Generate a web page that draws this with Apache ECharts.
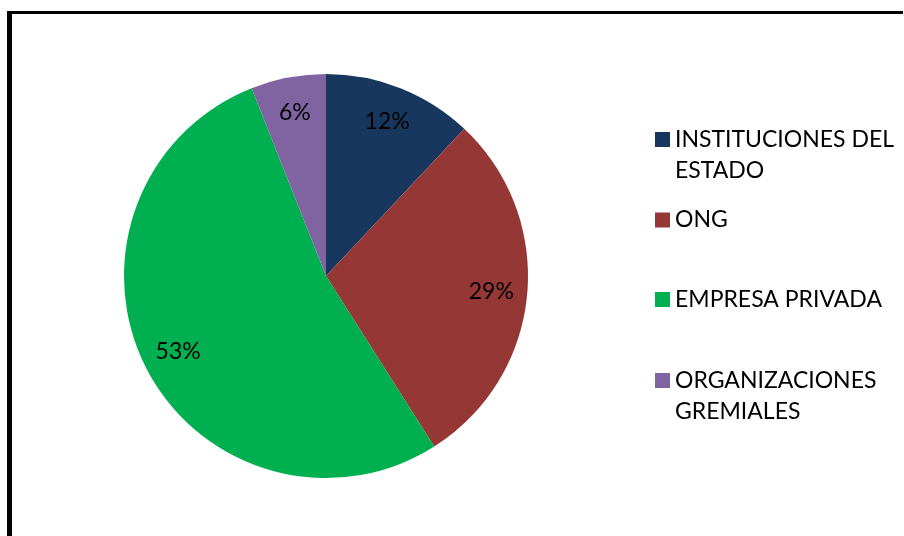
<!DOCTYPE html>
<html>
<head>
<meta charset="utf-8">
<script src="https://cdn.jsdelivr.net/npm/echarts@6/dist/echarts.min.js"></script>
<style>
  html, body { margin: 0; padding: 0; background: #fff; }
  #frame { position: absolute; left: 7px; top: 11px; width: 891px; height: 540px; border-left: 5px solid #000; border-top: 3px solid #000; }
  #chart { position: absolute; left: 0; top: 0; width: 904px; height: 536px; }
</style>
</head>
<body>
<div id="frame"></div>
<div id="chart"></div>
<script>
const categories = ['INSTITUCIONES DEL ESTADO', 'ONG', 'EMPRESA PRIVADA', 'ORGANIZACIONES GREMIALES'];
const legendLabels = ['INSTITUCIONES DEL\nESTADO', 'ONG', 'EMPRESA PRIVADA', 'ORGANIZACIONES\nGREMIALES'];
const shares = [12, 29, 53, 6];
const colors = ['#17375E', '#953735', '#00B050', '#8064A2'];

const chart = echarts.init(document.getElementById('chart'));
const FONT = 'Lato';
const data = categories.map((c, i) => ({ name: c, value: shares[i], itemStyle: { color: colors[i] } }));

const legendCenters = [139.5, 220, 299.5, 380.5];
const LH = 31;
const legends = categories.map((c, i) => {
  const twoLine = legendLabels[i].indexOf('\n') >= 0;
  return {
    orient: 'vertical',
    left: 655,
    top: twoLine ? legendCenters[i] - 1.5 * LH : legendCenters[i] - LH / 2,
    padding: 0,
    itemWidth: 15,
    itemHeight: 15,
    icon: 'rect',
    selectedMode: false,
    data: [c],
    formatter: () => (twoLine ? '\n' : '') + legendLabels[i],
    textStyle: {
      fontFamily: FONT,
      fontSize: 23,
      color: '#000',
      lineHeight: LH
    }
  };
});

chart.setOption({
  animation: false,
  color: colors,
  legend: legends,
  series: [
    {
      type: 'pie',
      center: [326, 276],
      radius: [0, 202],
      startAngle: 90,
      clockwise: true,
      data: data,
      label: { show: false },
      labelLine: { show: false },
      itemStyle: { borderWidth: 0 },
      emphasis: { disabled: true }
    },
    {
      type: 'pie',
      center: [326, 276],
      radius: [124, 202],
      startAngle: 90,
      clockwise: true,
      silent: true,
      data: categories.map((c, i) => ({ name: c, value: shares[i] })),
      itemStyle: { color: 'rgba(0,0,0,0)', borderWidth: 0 },
      label: {
        show: true,
        position: 'inside',
        formatter: p => p.value + '%',
        fontFamily: FONT,
        fontSize: 23,
        color: '#000'
      },
      labelLine: { show: false },
      emphasis: { disabled: true }
    }
  ]
});
</script>
</body>
</html>
